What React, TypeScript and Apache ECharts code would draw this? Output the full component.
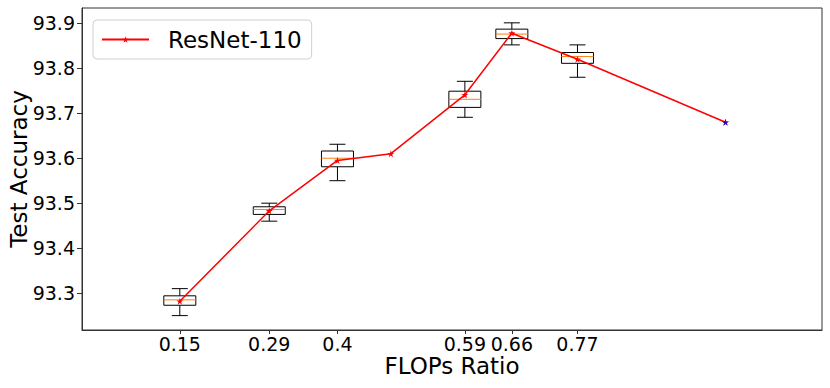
import React, { useEffect, useRef } from "react";
import * as echarts from "echarts";

// ---- data ----
const boxPositions = [0.152, 0.291, 0.397, 0.595, 0.668, 0.77];
const xTickLabels = ["0.15", "0.29", "0.4", "0.59", "0.66", "0.77"];
const boxMin = [93.25, 93.46, 93.55, 93.691, 93.852, 93.78];
const boxQ1 = [93.273, 93.475, 93.581, 93.713, 93.866, 93.811];
const boxMedian = [93.285, 93.486, 93.6, 93.731, 93.876, 93.826];
const boxQ3 = [93.294, 93.492, 93.616, 93.749, 93.887, 93.835];
const boxMax = [93.31, 93.5, 93.631, 93.771, 93.901, 93.852];
const lineX = [0.152, 0.291, 0.397, 0.48, 0.595, 0.668, 0.77, 1.0];
const lineY = [93.282, 93.483, 93.595, 93.61, 93.741, 93.878, 93.82, 93.68];
const baselineX = [1.0];
const baselineY = [93.68];
const yTickValues = [93.3, 93.4, 93.5, 93.6, 93.7, 93.8, 93.9];
const seriesName = "ResNet-110";

const STAR =
  "path://M1,0 L1.2245,0.691 L1.951,0.691 L1.363,1.118 L1.588,1.809 L1,1.382 L0.412,1.809 L0.637,1.118 L0.049,0.691 L0.7755,0.691 Z";
const FONT = "DejaVu Sans";

export default function App() {
  const ref = useRef<HTMLDivElement>(null);
  useEffect(() => {
    document.body.style.margin = "0";
    const chart = echarts.init(ref.current!, null, { renderer: "svg" });
    const boxData = boxPositions.map((x, i) => [x, boxMin[i], boxQ1[i], boxMedian[i], boxQ3[i], boxMax[i]]);
    const option: any = {
      animation: false,
      backgroundColor: "#fff",
      grid: {
        left: 82,
        top: 8,
        right: 8,
        bottom: 58,
        show: true,
        borderColor: "#333",
        borderWidth: 1,
        containLabel: false,
        outerBoundsMode: "none",
      },
      legend: {
        data: [seriesName],
        left: 93,
        top: 20,
        orient: "vertical",
        backgroundColor: "#fff",
        borderColor: "#d0d0d0",
        borderWidth: 1,
        borderRadius: 4,
        padding: [8, 10, 8, 8],
        itemWidth: 47,
        itemHeight: 8,
        textStyle: { fontFamily: FONT, fontSize: 23, color: "#000", padding: [0, 0, 0, 14] },
      },
      xAxis: {
        type: "value",
        min: 0,
        max: 1.15,
        name: "FLOPs Ratio",
        nameLocation: "middle",
        nameGap: 24,
        nameMoveOverlap: false,
        nameTextStyle: { fontFamily: FONT, fontSize: 23, color: "#000" },
        axisLine: { show: true, lineStyle: { color: "#333", width: 1 } },
        splitLine: { show: false },
        axisTick: { show: true, length: 4, customValues: boxPositions, lineStyle: { color: "#333" } },
        axisLabel: {
          customValues: boxPositions,
          fontFamily: FONT,
          fontSize: 19,
          color: "#000",
          margin: 4,
          formatter: (v: number) => {
            const i = boxPositions.findIndex((p) => Math.abs(p - v) < 1e-6);
            return i >= 0 ? xTickLabels[i] : "";
          },
        },
      },
      yAxis: {
        type: "value",
        min: 93.218,
        max: 93.934,
        name: "Test Accuracy",
        nameLocation: "middle",
        nameGap: 52,
        nameMoveOverlap: false,
        nameTextStyle: { fontFamily: FONT, fontSize: 23, color: "#000" },
        axisLine: { show: true, lineStyle: { color: "#333", width: 1 } },
        splitLine: { show: false },
        axisTick: { show: true, length: 5, customValues: yTickValues, lineStyle: { color: "#333" } },
        axisLabel: {
          customValues: yTickValues,
          fontFamily: FONT,
          fontSize: 19,
          color: "#000",
          margin: 7,
          formatter: (v: number) => v.toFixed(1),
        },
      },
      series: [
        {
          type: "custom",
          name: "boxes",
          z: 1,
          encode: { x: 0, y: [1, 2, 3, 4, 5] },
          data: boxData,
          renderItem: (params: any, api: any) => {
            const x = api.value(0);
            const pMin = api.coord([x, api.value(1)]);
            const pQ1 = api.coord([x, api.value(2)]);
            const pMed = api.coord([x, api.value(3)]);
            const pQ3 = api.coord([x, api.value(4)]);
            const pMax = api.coord([x, api.value(5)]);
            const cx = pMed[0];
            const bw = 32;
            const cw = 16;
            const blk = { stroke: "#000", lineWidth: 1, fill: "none" };
            return {
              type: "group",
              children: [
                { type: "line", shape: { x1: cx, y1: pMax[1], x2: cx, y2: pQ3[1] }, style: blk },
                { type: "line", shape: { x1: cx, y1: pQ1[1], x2: cx, y2: pMin[1] }, style: blk },
                { type: "line", shape: { x1: cx - cw / 2, y1: pMax[1], x2: cx + cw / 2, y2: pMax[1] }, style: blk },
                { type: "line", shape: { x1: cx - cw / 2, y1: pMin[1], x2: cx + cw / 2, y2: pMin[1] }, style: blk },
                { type: "rect", shape: { x: cx - bw / 2, y: pQ3[1], width: bw, height: pQ1[1] - pQ3[1] }, style: blk },
                {
                  type: "line",
                  shape: { x1: cx - bw / 2, y1: pMed[1], x2: cx + bw / 2, y2: pMed[1] },
                  style: { stroke: "#ff7f0e", lineWidth: 1 },
                },
              ],
            };
          },
        },
        {
          type: "line",
          name: seriesName,
          z: 3,
          data: lineX.map((x, i) => [x, lineY[i]]),
          symbol: STAR,
          symbolSize: 7,
          showAllSymbol: true,
          lineStyle: { color: "#ff0000", width: 1.5 },
          itemStyle: { color: "#ff0000" },
        },
        {
          type: "scatter",
          name: "baseline",
          z: 4,
          data: baselineX.map((x, i) => [x, baselineY[i]]),
          symbol: STAR,
          symbolSize: 7,
          itemStyle: { color: "#0000ff" },
        },
      ],
    };
    chart.setOption(option);
    return () => chart.dispose();
  }, []);
  return <div ref={ref} style={{ width: 830, height: 388 }} />;
}
